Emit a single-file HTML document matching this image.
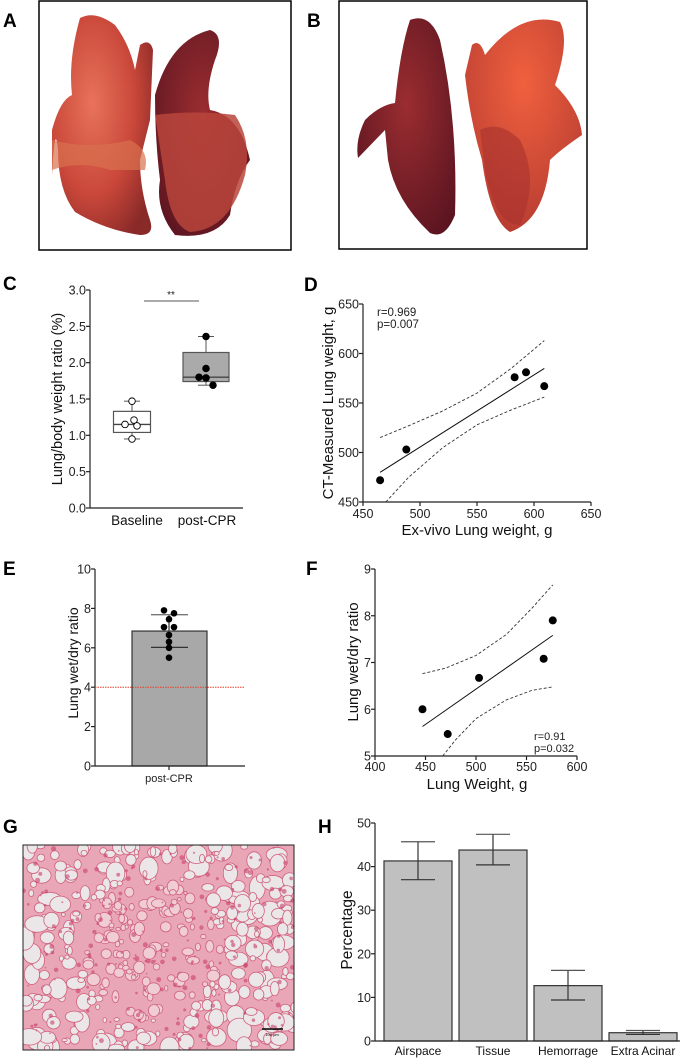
<!DOCTYPE html>
<html><head><meta charset="utf-8"><style>
html,body{margin:0;padding:0;background:#fff;}
svg{display:block;font-family:"Liberation Sans",Arial,sans-serif;}
.t{font-size:12.5px;fill:#222;}
.lbl{font-size:19px;font-weight:bold;fill:#000;}
.ax{stroke:#222;stroke-width:1.2;fill:none;}
</style></head><body>
<svg id="fig" width="685" height="1059" viewBox="0 0 685 1059" xmlns="http://www.w3.org/2000/svg">
<defs>
<radialGradient id="lgA" cx="40%" cy="40%" r="70%"><stop offset="0" stop-color="#e8735a"/><stop offset="0.6" stop-color="#c9473a"/><stop offset="1" stop-color="#8a2a28"/></radialGradient>
<radialGradient id="lgD" cx="50%" cy="40%" r="70%"><stop offset="0" stop-color="#9a2d30"/><stop offset="1" stop-color="#5a1420"/></radialGradient>
<radialGradient id="lgB" cx="50%" cy="30%" r="80%"><stop offset="0" stop-color="#f0603e"/><stop offset="1" stop-color="#b03830"/></radialGradient>
</defs>

<text class="lbl" x="3" y="27">A</text>
<g>
<rect x="39" y="1" width="252" height="249" fill="#fff" stroke="#000" stroke-width="1.5"/>
<path d="M80,18 Q95,10 115,25 Q130,45 135,70 L140,45 Q150,38 153,50 L150,120 L140,160 Q140,190 150,220 Q155,235 140,235 Q105,230 75,212 Q58,190 58,150 Q55,120 52,175 L52,130 Q60,100 72,95 Q68,60 80,18Z" fill="url(#lgA)"/>
<path d="M155,95 Q170,40 210,30 Q225,35 215,60 Q205,90 210,110 Q240,115 250,160 Q235,180 230,215 Q215,240 175,235 Q155,210 160,180 Q155,140 155,95Z" fill="url(#lgD)"/>
<path d="M155,115 Q195,110 235,115 Q252,140 245,175 Q230,230 190,232 Q170,225 165,180Z" fill="#b8453c" opacity="0.85"/>
<path d="M52,140 Q90,150 130,140 Q150,150 145,170 L110,170 Q80,160 52,170Z" fill="#d8704f" opacity="0.7"/>
</g>

<text class="lbl" x="307" y="27">B</text>
<g>
<rect x="339" y="1" width="248" height="248" fill="#fff" stroke="#000" stroke-width="1.5"/>
<path d="M410,20 Q430,12 440,40 Q458,120 455,215 Q445,240 430,233 Q395,200 388,160 L385,130 L358,158 Q355,140 365,120 Q380,105 395,103 Q400,50 410,20Z" fill="url(#lgD)"/>
<path d="M472,45 Q480,38 485,55 Q520,10 560,22 Q570,40 555,85 Q580,110 582,135 Q560,150 550,160 Q545,220 510,232 Q490,220 482,160 Q470,120 465,75Z" fill="url(#lgB)"/>
<path d="M480,130 Q500,120 520,140 Q540,180 520,225 Q495,225 485,170Z" fill="#a8322e" opacity="0.6"/>
</g>

<text class="lbl" x="3" y="290">C</text>
<g id="chartC"></g>

<text class="lbl" x="304" y="291">D</text>
<g id="chartD"></g>

<text class="lbl" x="3" y="575">E</text>
<g id="chartE"></g>

<text class="lbl" x="306" y="575">F</text>
<g id="chartF"></g>

<text class="lbl" x="3" y="833">G</text>
<g id="histo">
<rect x="23" y="845" width="271" height="205" fill="#e9a6b6" stroke="#000" stroke-width="1"/>
</g>

<text class="lbl" x="318" y="833">H</text>
<g id="chartH"></g>
</svg>

<script>
// Panel C
const cGroups = ["Baseline", "post-CPR"];
const cBaselinePts = [1.47, 1.21, 1.15, 1.13, 0.95];
const cPostPts = [2.36, 1.92, 1.80, 1.79, 1.69];
const cBaselineBox = [0.95, 1.04, 1.15, 1.33, 1.47];
const cPostBox = [1.69, 1.74, 1.80, 2.14, 2.36];
const cTicks = [0.0, 0.5, 1.0, 1.5, 2.0, 2.5, 3.0];
// Panel D
const dX = [465, 488, 583, 593, 609];
const dY = [472, 503, 576, 581, 567];
const dFitX = [465, 609];
const dFitY = [480, 585];
const dUpperX = [465, 490, 520, 550, 580, 609];
const dUpperY = [515, 527, 542, 560, 585, 613];
const dLowerX = [470, 490, 520, 550, 580, 609];
const dLowerY = [450, 475, 505, 528, 543, 556];
const dXTicks = [450, 500, 550, 600, 650];
const dYTicks = [450, 500, 550, 600, 650];
// Panel E
const eCategory = ["post-CPR"];
const eMean = [6.85];
const eErrLow = [6.02];
const eErrHigh = [7.68];
const ePts = [7.9, 7.75, 7.45, 7.05, 7.05, 6.65, 6.3, 6.0, 5.5];
const eTicks = [0, 2, 4, 6, 8, 10];
const eThreshold = [4];
// Panel F
const fX = [447, 472, 503, 567, 576];
const fY = [6.0, 5.47, 6.67, 7.08, 7.9];
const fFitX = [447, 576];
const fFitY = [5.63, 7.58];
const fUpperX = [447, 470, 500, 530, 555, 576];
const fUpperY = [6.76, 6.88, 7.15, 7.6, 8.15, 8.66];
const fLowerX = [467, 480, 500, 530, 555, 576];
const fLowerY = [5.0, 5.35, 5.8, 6.2, 6.4, 6.48];
const fXTicks = [400, 450, 500, 550, 600];
const fYTicks = [5, 6, 7, 8, 9];
// Panel H
const hCats = ["Airspace", "Tissue", "Hemorrage", "Extra Acinar"];
const hVals = [41.3, 43.8, 12.7, 1.9];
const hLow = [37.0, 40.4, 9.4, 1.5];
const hHigh = [45.7, 47.4, 16.2, 2.4];
const hTicks = [0, 10, 20, 30, 40, 50];

const NS = "http://www.w3.org/2000/svg";
function mk(parent, tag, attrs, text){
  const e = document.createElementNS(NS, tag);
  for (const k in attrs) e.setAttribute(k, attrs[k]);
  if (text !== undefined) e.textContent = text;
  parent.appendChild(e);
  return e;
}
function lin(d0,d1,r0,r1){ return v => r0 + (v-d0)*(r1-r0)/(d1-d0); }
function yAxis(g, x, y, ticks, fmt, top, bottom){
  const a = mk(g,'line',{x1:x,y1:top,x2:x,y2:bottom,class:'ax'});
  
  
  ticks.forEach(t=>{
    mk(g,'line',{x1:x-4,y1:y(t),x2:x,y2:y(t),class:'ax'});
    const tx = mk(g,'text',{x:x-4,y:y(t)+4.5,'text-anchor':'end',class:'t'},fmt(t));
    
    
  });
}
function xAxisLine(g,y,x0,x1){
  const a = mk(g,'line',{x1:x0,y1:y,x2:x1,y2:y,class:'ax'});
  
  
}
function yTitle(g,x,y,txt,size){
  const t = mk(g,'text',{x:x,y:y,transform:`rotate(-90 ${x} ${y})`,'text-anchor':'middle','font-size':size||14,fill:'#111'},txt);
  
  
}
function xTitle(g,x,y,txt,size){
  const t = mk(g,'text',{x:x,y:y,'text-anchor':'middle','font-size':size||14,fill:'#111'},txt);
  
  
}
function pathFrom(xs,ys,sx,sy){ return xs.map((v,i)=>(i?'L':'M')+sx(v).toFixed(1)+','+sy(ys[i]).toFixed(1)).join(' '); }

// Panel C
(function(){
  const g = document.getElementById('chartC');
  const y = lin(0,3,508,290);
  yAxis(g,90,y,cTicks,t=>t.toFixed(1),290,508);
  xAxisLine(g,508,90,243);
  yTitle(g,62,399,'Lung/body weight ratio (%)',14.5);
  const cx = [132,206], bw = [37,46];
  const boxes = [cBaselineBox,cPostBox], pts=[cBaselinePts,cPostPts];
  const fills = ['#fff','#aaa'];
  const offs = [[0,2,-7,5,0],[0,0,-7,0,7]];
  boxes.forEach((b,i)=>{
    const x = cx[i], w = bw[i];
    mk(g,'line',{x1:x,y1:y(b[0]),x2:x,y2:y(b[4]),stroke:'#555','stroke-width':1});
    mk(g,'line',{x1:x-8,y1:y(b[4]),x2:x+8,y2:y(b[4]),stroke:'#555'});
    mk(g,'line',{x1:x-8,y1:y(b[0]),x2:x+8,y2:y(b[0]),stroke:'#555'});
    const r = mk(g,'rect',{x:x-w/2,y:y(b[3]),width:w,height:y(b[1])-y(b[3]),fill:fills[i],stroke:'#555','stroke-width':1.2});
    
    
    mk(g,'line',{x1:x-w/2,y1:y(b[2]),x2:x+w/2,y2:y(b[2]),stroke:'#444','stroke-width':1.3});
    pts[i].forEach((v,j)=>{
      const c = mk(g,'circle',{cx:x+offs[i][j],cy:y(v),r:3.3,fill:i?'#000':'#fff',stroke:'#000','stroke-width':0.9});
      
      
    });
    const t = mk(g,'text',{x:x+(i?1:5),y:525,'text-anchor':'middle','font-size':13.5,fill:'#111'},cGroups[i]);
    
    
  });
  mk(g,'line',{x1:144,y1:301,x2:199,y2:301,stroke:'#777','stroke-width':1.2});
  const s = mk(g,'text',{x:171,y:298,'text-anchor':'middle','font-size':10,fill:'#222'},'**');
  
  
})();

// Panel D
(function(){
  const g = document.getElementById('chartD');
  const x = lin(450,650,363,591), y = lin(450,650,502,304);
  yAxis(g,363,y,dYTicks,t=>t,304,502);
  xAxisLine(g,502,363,591);
  dXTicks.forEach(t=>{
    mk(g,'line',{x1:x(t),y1:502,x2:x(t),y2:506,class:'ax'});
    const tx = mk(g,'text',{x:x(t),y:518,'text-anchor':'middle',class:'t'},t);
    
    
  });
  yTitle(g,333,403,'CT-Measured Lung weight, g',15);
  xTitle(g,477,535,'Ex-vivo Lung weight, g',15);
  mk(g,'path',{d:pathFrom(dUpperX,dUpperY,x,y),fill:'none',stroke:'#333','stroke-width':0.9,'stroke-dasharray':'3,2'});
  mk(g,'path',{d:pathFrom(dLowerX,dLowerY,x,y),fill:'none',stroke:'#333','stroke-width':0.9,'stroke-dasharray':'3,2'});
  const fl = mk(g,'path',{d:pathFrom(dFitX,dFitY,x,y),fill:'none',stroke:'#111','stroke-width':1});
  
  
  dX.forEach((v,i)=>{
    const c = mk(g,'circle',{cx:x(v),cy:y(dY[i]),r:4,fill:'#000'});
    
    
  });
  const a = mk(g,'text',{x:377,y:316,'font-size':11.5,fill:'#222'},'r=0.969');
  
  
  const b = mk(g,'text',{x:377,y:328,'font-size':11.5,fill:'#222'},'p=0.007');
  
  
})();

// Panel E
(function(){
  const g = document.getElementById('chartE');
  const y = lin(0,10,766,569);
  yAxis(g,95,y,eTicks,t=>t,569,766);
  yTitle(g,78,663,'Lung wet/dry ratio',14);
  const bar = mk(g,'rect',{x:132,y:y(eMean[0]),width:75,height:766-y(eMean[0]),fill:'#a8a8a8',stroke:'#333','stroke-width':1.2});
  
  
  xAxisLine(g,766,95,245);
  const th = mk(g,'line',{x1:95,y1:y(eThreshold[0]),x2:245,y2:y(eThreshold[0]),stroke:'#e0442a','stroke-width':1,'stroke-dasharray':'1.5,1'});
  
  
  mk(g,'line',{x1:169,y1:y(eErrLow[0]),x2:169,y2:y(eErrHigh[0]),stroke:'#333','stroke-width':1.2});
  mk(g,'line',{x1:151,y1:y(eErrHigh[0]),x2:188,y2:y(eErrHigh[0]),stroke:'#777','stroke-width':1.4});
  mk(g,'line',{x1:151,y1:y(eErrLow[0]),x2:188,y2:y(eErrLow[0]),stroke:'#333','stroke-width':1.2});
  const ex = [164,174,169,164,174,169,169,169,169];
  ePts.forEach((v,i)=>{
    const c = mk(g,'circle',{cx:ex[i],cy:y(v),r:3.3,fill:'#000'});
    
    
  });
  mk(g,'line',{x1:169,y1:766,x2:169,y2:770,class:'ax'});
  const t = mk(g,'text',{x:169,y:782,'text-anchor':'middle','font-size':11,fill:'#222'},eCategory[0]);
  
  
})();

// Panel F
(function(){
  const g = document.getElementById('chartF');
  const x = lin(400,600,375,577), y = lin(5,9,756,569);
  yAxis(g,375,y,fYTicks,t=>t,569,756);
  xAxisLine(g,756,375,577);
  fXTicks.forEach(t=>{
    mk(g,'line',{x1:x(t),y1:756,x2:x(t),y2:760,class:'ax'});
    const tx = mk(g,'text',{x:x(t),y:771,'text-anchor':'middle',class:'t'},t);
    
    
  });
  yTitle(g,358,662,'Lung wet/dry ratio',15);
  xTitle(g,477,789,'Lung Weight, g',15);
  mk(g,'path',{d:pathFrom(fUpperX,fUpperY,x,y),fill:'none',stroke:'#333','stroke-width':0.9,'stroke-dasharray':'3,2'});
  mk(g,'path',{d:pathFrom(fLowerX,fLowerY,x,y),fill:'none',stroke:'#333','stroke-width':0.9,'stroke-dasharray':'3,2'});
  const fl = mk(g,'path',{d:pathFrom(fFitX,fFitY,x,y),fill:'none',stroke:'#111','stroke-width':1});
  
  
  fX.forEach((v,i)=>{
    const c = mk(g,'circle',{cx:x(v),cy:y(fY[i]),r:4,fill:'#000'});
    
    
  });
  const a = mk(g,'text',{x:534,y:740,'font-size':11,fill:'#222'},'r=0.91');
  
  
  const b = mk(g,'text',{x:534,y:752,'font-size':11,fill:'#222'},'p=0.032');
  
  
})();

// Panel G histology texture
(function(){
  const g = document.getElementById('histo');
  let s = 12345;
  function rnd(){ s = (s*16807)%2147483647; return s/2147483647; }
  const clip = mk(g,'clipPath',{id:'hc'});
  mk(clip,'rect',{x:23,y:845,width:271,height:205});
  const inner = mk(g,'g',{'clip-path':'url(#hc)'});
  for(let i=0;i<420;i++){
    const cx = 23+rnd()*271, cy = 845+rnd()*205;
    const dc = Math.hypot(cx-150,cy-950);
    const r = 2+rnd()*(dc>80?8:4);
    mk(inner,'ellipse',{cx:cx,cy:cy,rx:r*(0.7+rnd()*0.6),ry:r*(0.7+rnd()*0.6),fill:dc>70?'#ebe6e7':'#f0ccd4',stroke:'#d0607e','stroke-width':0.8});
  }
  for(let i=0;i<200;i++){
    const cx = 23+rnd()*271, cy = 845+rnd()*205;
    mk(inner,'circle',{cx:cx,cy:cy,r:0.8+rnd()*1.8,fill:'#c9406a',opacity:0.6});
  }
  mk(g,'rect',{x:23,y:845,width:271,height:205,fill:'none',stroke:'#222','stroke-width':1});
  mk(g,'line',{x1:262,y1:1029,x2:283,y2:1029,stroke:'#000','stroke-width':1.5});
  const sb = mk(g,'text',{x:272,y:1036,'text-anchor':'middle','font-size':4,fill:'#000'},'100 µm');
  
  
})();

// Panel H
(function(){
  const g = document.getElementById('chartH');
  const y = lin(0,50,1041,823);
  yAxis(g,375,y,hTicks,t=>t,823,1041);
  yTitle(g,352,930,'Percentage',15.5);
  const bx0 = 384, step = 75, bw = 68;
  hCats.forEach((c,i)=>{
    const x = bx0 + i*step;
    const r = mk(g,'rect',{x:x,y:y(hVals[i]),width:bw,height:1041-y(hVals[i]),fill:'#c0c0c0',stroke:'#333','stroke-width':1.2});
    
    
    const cx = x+bw/2;
    mk(g,'line',{x1:cx,y1:y(hLow[i]),x2:cx,y2:y(hHigh[i]),stroke:'#333','stroke-width':1.2});
    mk(g,'line',{x1:cx-17,y1:y(hHigh[i]),x2:cx+17,y2:y(hHigh[i]),stroke:'#555','stroke-width':1.2});
    mk(g,'line',{x1:cx-17,y1:y(hLow[i]),x2:cx+17,y2:y(hLow[i]),stroke:'#333','stroke-width':1.2});
    const t = mk(g,'text',{x:cx,y:1055,'text-anchor':'middle','font-size':12,fill:'#111'},c);
    
    
  });
  xAxisLine(g,1041,375,680);
})();
</script>
</body></html>
